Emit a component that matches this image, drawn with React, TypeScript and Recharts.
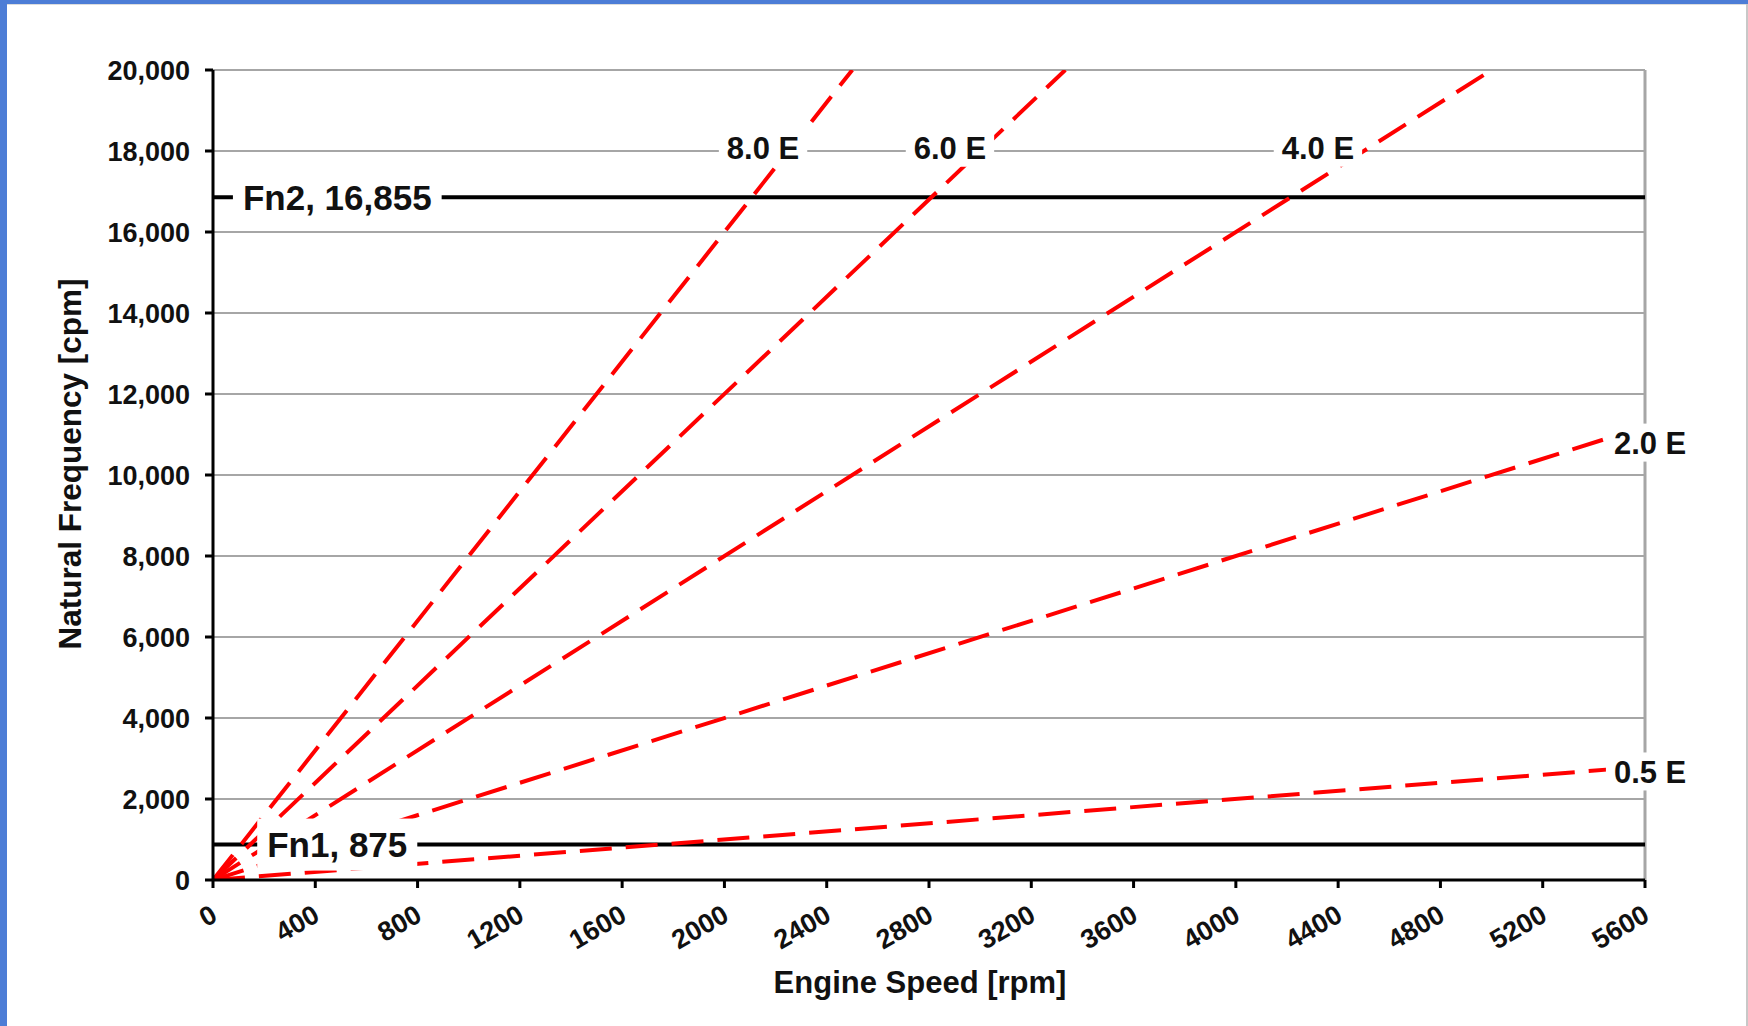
import React from 'react';
import { LineChart, Line, XAxis, YAxis, CartesianGrid, ReferenceLine, ReferenceDot } from 'recharts';

// ---- data ----
const xTicks = [0, 400, 800, 1200, 1600, 2000, 2400, 2800, 3200, 3600, 4000, 4400, 4800, 5200, 5600];
const yTicks = [0, 2000, 4000, 6000, 8000, 10000, 12000, 14000, 16000, 18000, 20000];

const fn1Line = [{ rpm: 0, cpm: 875 }, { rpm: 5600, cpm: 875 }];
const fn2Line = [{ rpm: 0, cpm: 16855 }, { rpm: 5600, cpm: 16855 }];

const order05 = [{ rpm: 0, cpm: 0 }, { rpm: 5500, cpm: 2750 }];
const order2 = [{ rpm: 0, cpm: 0 }, { rpm: 5500, cpm: 11000 }];
const order4 = [{ rpm: 0, cpm: 0 }, { rpm: 5000, cpm: 20000 }];
const order6 = [{ rpm: 0, cpm: 0 }, { rpm: 3333, cpm: 20000 }];
const order8 = [{ rpm: 0, cpm: 0 }, { rpm: 2500, cpm: 20000 }];

const fnLabels = [
  { text: 'Fn2, 16,855', rpm: 117, cpm: 16855 },
  { text: 'Fn1, 875', rpm: 212, cpm: 875 },
];

const orderLabels = [
  { text: '8.0 E', rpm: 2151, cpm: 18080 },
  { text: '6.0 E', rpm: 2882, cpm: 18080 },
  { text: '4.0 E', rpm: 4321, cpm: 18080 },
  { text: '2.0 E', rpm: 5620, cpm: 10800 },
  { text: '0.5 E', rpm: 5620, cpm: 2680 },
];

// ---- styling ----
const FONT = '"Liberation Sans", Arial, Helvetica, sans-serif';
const TEXT = '#111111';
const RED = '#ff0000';
const GRID = '#a6a6a6';

let ctx: CanvasRenderingContext2D | null = null;
function measure(text: string, size: number): number {
  if (!ctx) {
    const c = document.createElement('canvas');
    ctx = c.getContext('2d');
  }
  if (!ctx) return text.length * size * 0.55;
  ctx.font = `bold ${size}px ${FONT}`;
  return ctx.measureText(text).width;
}

function boxLabel(text: string, size: number, anchor: 'start' | 'middle', padX: number, boxH: number) {
  return (props: any) => {
    const { cx, cy } = props;
    const w = measure(text, size);
    const left = anchor === 'start' ? cx - padX : cx - w / 2 - padX;
    return (
      <g>
        <rect x={left} y={cy - boxH / 2} width={w + padX * 2} height={boxH} fill="#ffffff" />
        <text
          x={cx}
          y={cy}
          dy="0.36em"
          textAnchor={anchor}
          fontSize={size}
          fontWeight="bold"
          fontFamily={FONT}
          fill={TEXT}
        >
          {text}
        </text>
      </g>
    );
  };
}

const XTick = (props: any) => {
  const { x, payload } = props;
  return (
    <g transform={`translate(${x + 6},${920})`}>
      <text
        x={0}
        y={0}
        transform="rotate(-30)"
        textAnchor="end"
        fontSize={27}
        fontWeight="bold"
        fontFamily={FONT}
        fill={TEXT}
      >
        {payload.value}
      </text>
    </g>
  );
};

const YTick = (props: any) => {
  const { x, y, payload } = props;
  return (
    <text
      x={x}
      y={y}
      dy="0.36em"
      textAnchor="end"
      fontSize={27}
      fontWeight="bold"
      fontFamily={FONT}
      fill={TEXT}
    >
      {Number(payload.value).toLocaleString('en-US')}
    </text>
  );
};

const BLUE = '#4d7dd6';

export default function App() {
  const redLines = [order05, order2, order4, order6, order8];
  return (
    <div style={{ position: 'relative', width: 1748, height: 1026, background: '#ffffff', overflow: 'hidden' }}>
      <style>{'body{margin:0;background:#fff;}'}</style>
      <div style={{ position: 'absolute', left: 0, top: 0 }}>
        <LineChart
          width={1748}
          height={1026}
          margin={{ top: 70, right: 103, bottom: 86, left: 63 }}
        >
          <CartesianGrid vertical={false} stroke={GRID} strokeWidth={2} />
          <XAxis
            type="number"
            dataKey="rpm"
            domain={[0, 5600]}
            ticks={xTicks}
            interval={0}
            height={60}
            axisLine={{ stroke: '#000', strokeWidth: 3 }}
            tickLine={{ stroke: '#000', strokeWidth: 3 }}
            tickSize={8}
            tick={<XTick />}
            allowDataOverflow
            label={{
              content: () => (
                <text x={920} y={993} textAnchor="middle" fontSize={31} fontWeight="bold" fontFamily={FONT} fill={TEXT}>
                  Engine Speed [rpm]
                </text>
              ),
            }}
          />
          <YAxis
            type="number"
            dataKey="cpm"
            domain={[0, 20000]}
            ticks={yTicks}
            interval={0}
            width={150}
            axisLine={{ stroke: '#000', strokeWidth: 3 }}
            tickLine={{ stroke: '#000', strokeWidth: 3 }}
            tickSize={8}
            tickMargin={15}
            tick={<YTick />}
            allowDataOverflow
            label={{
              content: () => (
                <text
                  x={70}
                  y={464}
                  dy="0.36em"
                  transform="rotate(-90,70,464)"
                  textAnchor="middle"
                  fontSize={31.5}
                  fontWeight="bold"
                  fontFamily={FONT}
                  fill={TEXT}
                >
                  Natural Frequency [cpm]
                </text>
              ),
            }}
          />
          <ReferenceLine x={5600} stroke={GRID} strokeWidth={3} />
          <Line data={fn2Line} dataKey="cpm" stroke="#000" strokeWidth={4} dot={false} activeDot={false} isAnimationActive={false} />
          <Line data={fn1Line} dataKey="cpm" stroke="#000" strokeWidth={4} dot={false} activeDot={false} isAnimationActive={false} />
          {redLines.map((d, i) => (
            <Line
              key={i}
              data={d}
              dataKey="cpm"
              stroke={RED}
              strokeWidth={4}
              strokeDasharray="32 14"
              dot={false}
              activeDot={false}
              isAnimationActive={false}
            />
          ))}
          {fnLabels.map((l) => (
            <ReferenceDot
              key={l.text}
              x={l.rpm}
              y={l.cpm}
              r={0}
              ifOverflow="visible"
              shape={boxLabel(l.text, 35, 'start', 10, 52)}
            />
          ))}
          {orderLabels.map((l) => (
            <ReferenceDot
              key={l.text}
              x={l.rpm}
              y={l.cpm}
              r={0}
              ifOverflow="visible"
              shape={boxLabel(l.text, 31, 'middle', 8, 38)}
            />
          ))}
        </LineChart>
      </div>
      <div style={{ position: 'absolute', left: 0, top: 0, width: 7, height: 1026, background: BLUE }} />
      <div style={{ position: 'absolute', left: 0, top: 0, width: 1748, height: 4, background: BLUE }} />
      <div style={{ position: 'absolute', left: 7, top: 4, width: 1741, height: 1, background: '#dcdcdc' }} />
      <div style={{ position: 'absolute', right: 0, top: 4, width: 2, height: 1022, background: '#c8c8c8' }} />
    </div>
  );
}
